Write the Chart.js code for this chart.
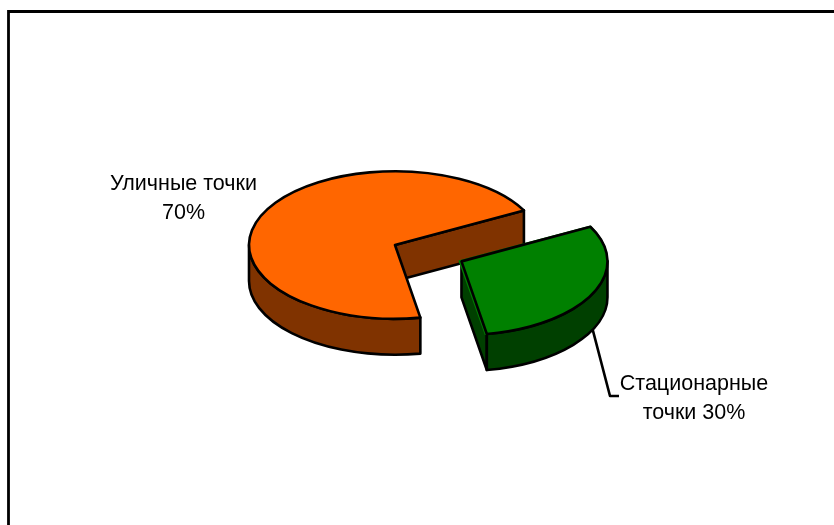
<!DOCTYPE html>
<html>
<head>
<meta charset="utf-8">
<title>Уличные и стационарные точки</title>
<script src="https://cdn.jsdelivr.net/npm/chart.js@4"></script>
<style>
html, body { margin: 0; padding: 0; background: #fff; overflow: hidden; }
canvas { display: block; }
</style>
</head>
<body>
<canvas id="myChart" width="834" height="525"></canvas>
<script>
const categories = ['Уличные точки', 'Стационарные точки'];
const values = [70, 30];
const topColors = ['#ff6600', '#008000'];
const wallColors = ['#803300', '#004000'];
const labelLines = [['Уличные точки', '70%'], ['Стационарные', 'точки 30%']];
const explode = [0, 282];

const tilt = 0.505;      // how flat the pie is lying
const depth = 36;        // height of the side wall, px
const outline = 2.6;

// chart.js moves an exploded arc by this much inside ArcElement.draw
const shift = (arc, off) => {
   const circ = arc.endAngle - arc.startAngle;
   const fix = 1 - Math.sin(Math.min(Math.PI, circ));
   const d = off / 4 * (1 + fix);
   const half = (arc.startAngle + arc.endAngle) / 2;
   return { x: arc.x + Math.cos(half) * d, y: arc.y + Math.sin(half) * d * tilt };
};

const drawWalls = (ctx, arc, off, color) => {
   const c = shift(arc, off);
   const r = arc.outerRadius;
   const a = arc.startAngle, b = arc.endAngle;
   ctx.fillStyle = color;
   ctx.strokeStyle = '#000';
   ctx.lineWidth = outline;
   ctx.lineJoin = 'round';

   // flat cut faces, only those turned to the viewer
   [[a, Math.sin(a - Math.PI / 2)], [b, Math.sin(b + Math.PI / 2)]].forEach(([ang, facing]) => {
      if (facing <= 0) return;
      const ex = c.x + Math.cos(ang) * r, ey = c.y + Math.sin(ang) * r * tilt;
      ctx.beginPath();
      ctx.moveTo(c.x, c.y);
      ctx.lineTo(ex, ey);
      ctx.lineTo(ex, ey + depth);
      ctx.lineTo(c.x, c.y + depth);
      ctx.closePath();
      ctx.fill();
      ctx.stroke();
   });

   // round outer wall, front half of the ellipse only
   const TAU = Math.PI * 2;
   const ranges = [[0, Math.PI], [TAU, TAU + Math.PI]];
   ranges.forEach(([lo, hi]) => {
      const from = Math.max(a, lo), to = Math.min(b, hi);
      if (to <= from) return;
      ctx.beginPath();
      ctx.ellipse(c.x, c.y, r, r * tilt, 0, from, to);
      ctx.ellipse(c.x, c.y + depth, r, r * tilt, 0, to, from, true);
      ctx.closePath();
      ctx.fill();
      ctx.stroke();
   });
};

const pie3d = {
   id: 'pie3d',
   beforeDraw(chart) {
      const ctx = chart.ctx;
      ctx.save();
      ctx.fillStyle = '#fff';
      ctx.fillRect(0, 0, chart.width, chart.height);
      // plot frame, runs off the right and bottom of the picture
      ctx.strokeStyle = '#000';
      ctx.lineWidth = 2.8;
      ctx.beginPath();
      ctx.moveTo(8.5, chart.height);
      ctx.lineTo(8.5, 11.5);
      ctx.lineTo(chart.width, 11.5);
      ctx.stroke();
      ctx.restore();
   },
   beforeDatasetsDraw(chart) {
      const ctx = chart.ctx;
      const arcs = chart.getDatasetMeta(0).data;
      arcs.forEach((arc, i) => drawWalls(ctx, arc, explode[i], wallColors[i]));
      // squash the flat pie that chart.js is about to draw
      const { x, y } = arcs[0];
      ctx.save();
      ctx.translate(x, y);
      ctx.scale(1, tilt);
      ctx.translate(-x, -y);
   },
   afterDatasetsDraw(chart) {
      const ctx = chart.ctx;
      ctx.restore();
      const arcs = chart.getDatasetMeta(0).data;
      ctx.save();
      ctx.strokeStyle = '#000';
      ctx.lineWidth = outline;
      ctx.lineJoin = 'round';
      arcs.forEach((arc, i) => {
         const c = shift(arc, explode[i]);
         ctx.beginPath();
         ctx.moveTo(c.x, c.y);
         ctx.ellipse(c.x, c.y, arc.outerRadius, arc.outerRadius * tilt, 0, arc.startAngle, arc.endAngle);
         ctx.closePath();
         ctx.stroke();
      });

      // leader line of the green slice
      const g = arcs[1];
      const gc = shift(g, explode[1]);
      const mid = (g.startAngle + g.endAngle) / 2;
      ctx.beginPath();
      ctx.moveTo(gc.x + Math.cos(mid) * g.outerRadius, gc.y + depth + Math.sin(mid) * g.outerRadius * tilt);
      ctx.lineTo(610, 396);
      ctx.lineTo(619, 396);
      ctx.stroke();

      ctx.fillStyle = '#000';
      ctx.font = '21.5px "Liberation Sans", Arial, sans-serif';
      ctx.textAlign = 'center';
      ctx.textBaseline = 'alphabetic';
      ctx.fillText(labelLines[0][0], 183.5, 190);
      ctx.fillText(labelLines[0][1], 183.5, 219);
      ctx.fillText(labelLines[1][0], 694, 390);
      ctx.fillText(labelLines[1][1], 694, 419);
      ctx.restore();
   }
};

const ctx = document.getElementById('myChart').getContext('2d');
const chart = new Chart(ctx, {
   type: 'pie',
   data: {
      labels: categories,
      datasets: [{
         data: values,
         backgroundColor: topColors,
         borderWidth: 0,
         offset: explode
      }]
   },
   options: {
      responsive: false,
      animation: false,
      devicePixelRatio: 1,
      rotation: 170,
      radius: 146,
      layout: { padding: { left: 0, top: 0, right: 44, bottom: 35 } },
      events: [],
      plugins: { legend: { display: false }, tooltip: { enabled: false }, title: { display: false } }
   },
   plugins: [pie3d]
});
</script>
</body>
</html>
